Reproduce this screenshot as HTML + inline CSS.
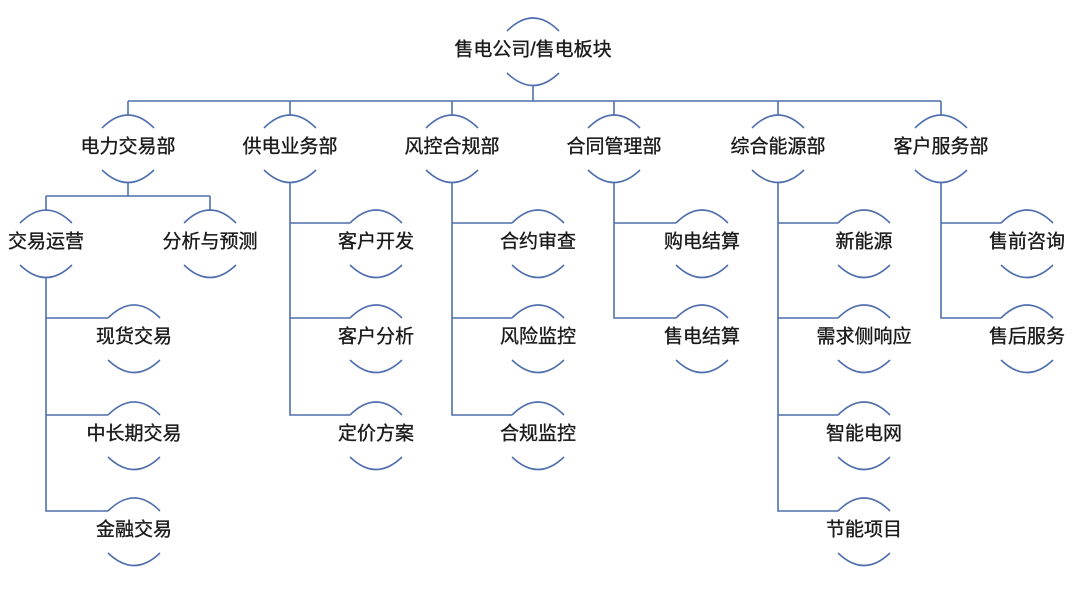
<!DOCTYPE html>
<html><head><meta charset="utf-8"><style>
html,body{margin:0;padding:0;background:#fff;}
svg{display:block;}
text{font-family:"Liberation Sans","Noto Sans CJK SC",sans-serif;font-size:19px;fill:#1a1a1a;stroke:#1a1a1a;stroke-width:0.35px;text-anchor:middle;dominant-baseline:central;}
</style></head><body>
<svg width="1080" height="593" viewBox="0 0 1080 593" xmlns="http://www.w3.org/2000/svg">
<g id="lines" stroke="#4f6fae" stroke-width="1.6" fill="none">
<path d="M533 85 V101 M128 101 H941"/>
<path d="M128 101 V115 M290 101 V115 M452 101 V115 M614 101 V115 M778 101 V115 M941 101 V115"/>
<path d="M128 182 V196 M46 196 H210 M46 196 V211 M210 196 V211"/>
<path d="M46 278 V511 H108 M46 318 H108 M46 415 H108"/>
<path d="M290 182 V415 H350 M290 223 H350 M290 318 H350"/>
<path d="M452 182 V415 H512 M452 223 H512 M452 318 H512"/>
<path d="M614 182 V318 H676 M614 223 H676"/>
<path d="M778 182 V511 H838 M778 223 H838 M778 318 H838 M778 415 H838"/>
<path d="M941 182 V318 H1001 M941 223 H1001"/>
</g>
<g id="arcs" stroke="#4f6fae" stroke-width="1.6" fill="none"></g>
<g id="labels"></g>
<script>
var nodes=[
[533,50,"售电公司/售电板块"],
[128,147,"电力交易部"],[290,147,"供电业务部"],[452,147,"风控合规部"],[614,147,"合同管理部"],[778,147,"综合能源部"],[941,147,"客户服务部"],
[46,242,"交易运营"],[210,242,"分析与预测"],
[134,337,"现货交易"],[134,434,"中长期交易"],[134,530,"金融交易"],
[376,242,"客户开发"],[376,337,"客户分析"],[376,434,"定价方案"],
[538,242,"合约审查"],[538,337,"风险监控"],[538,434,"合规监控"],
[702,242,"购电结算"],[702,337,"售电结算"],
[864,242,"新能源"],[864,337,"需求侧响应"],[864,434,"智能电网"],[864,530,"节能项目"],
[1027,242,"售前咨询"],[1027,337,"售后服务"]
];
var ns="http://www.w3.org/2000/svg",a=document.getElementById("arcs"),l=document.getElementById("labels");
nodes.forEach(function(n){
var x=n[0],y=n[1];
var p=document.createElementNS(ns,"path");
p.setAttribute("d","M"+(x-26)+" "+(y-19)+" Q"+x+" "+(y-45)+" "+(x+26)+" "+(y-19)+" M"+(x-26)+" "+(y+23)+" Q"+x+" "+(y+48)+" "+(x+26)+" "+(y+23));
a.appendChild(p);
var t=document.createElementNS(ns,"text");
t.setAttribute("x",x);t.setAttribute("y",y);t.textContent=n[2];l.appendChild(t);
});
</script>
</svg>
</body></html>
